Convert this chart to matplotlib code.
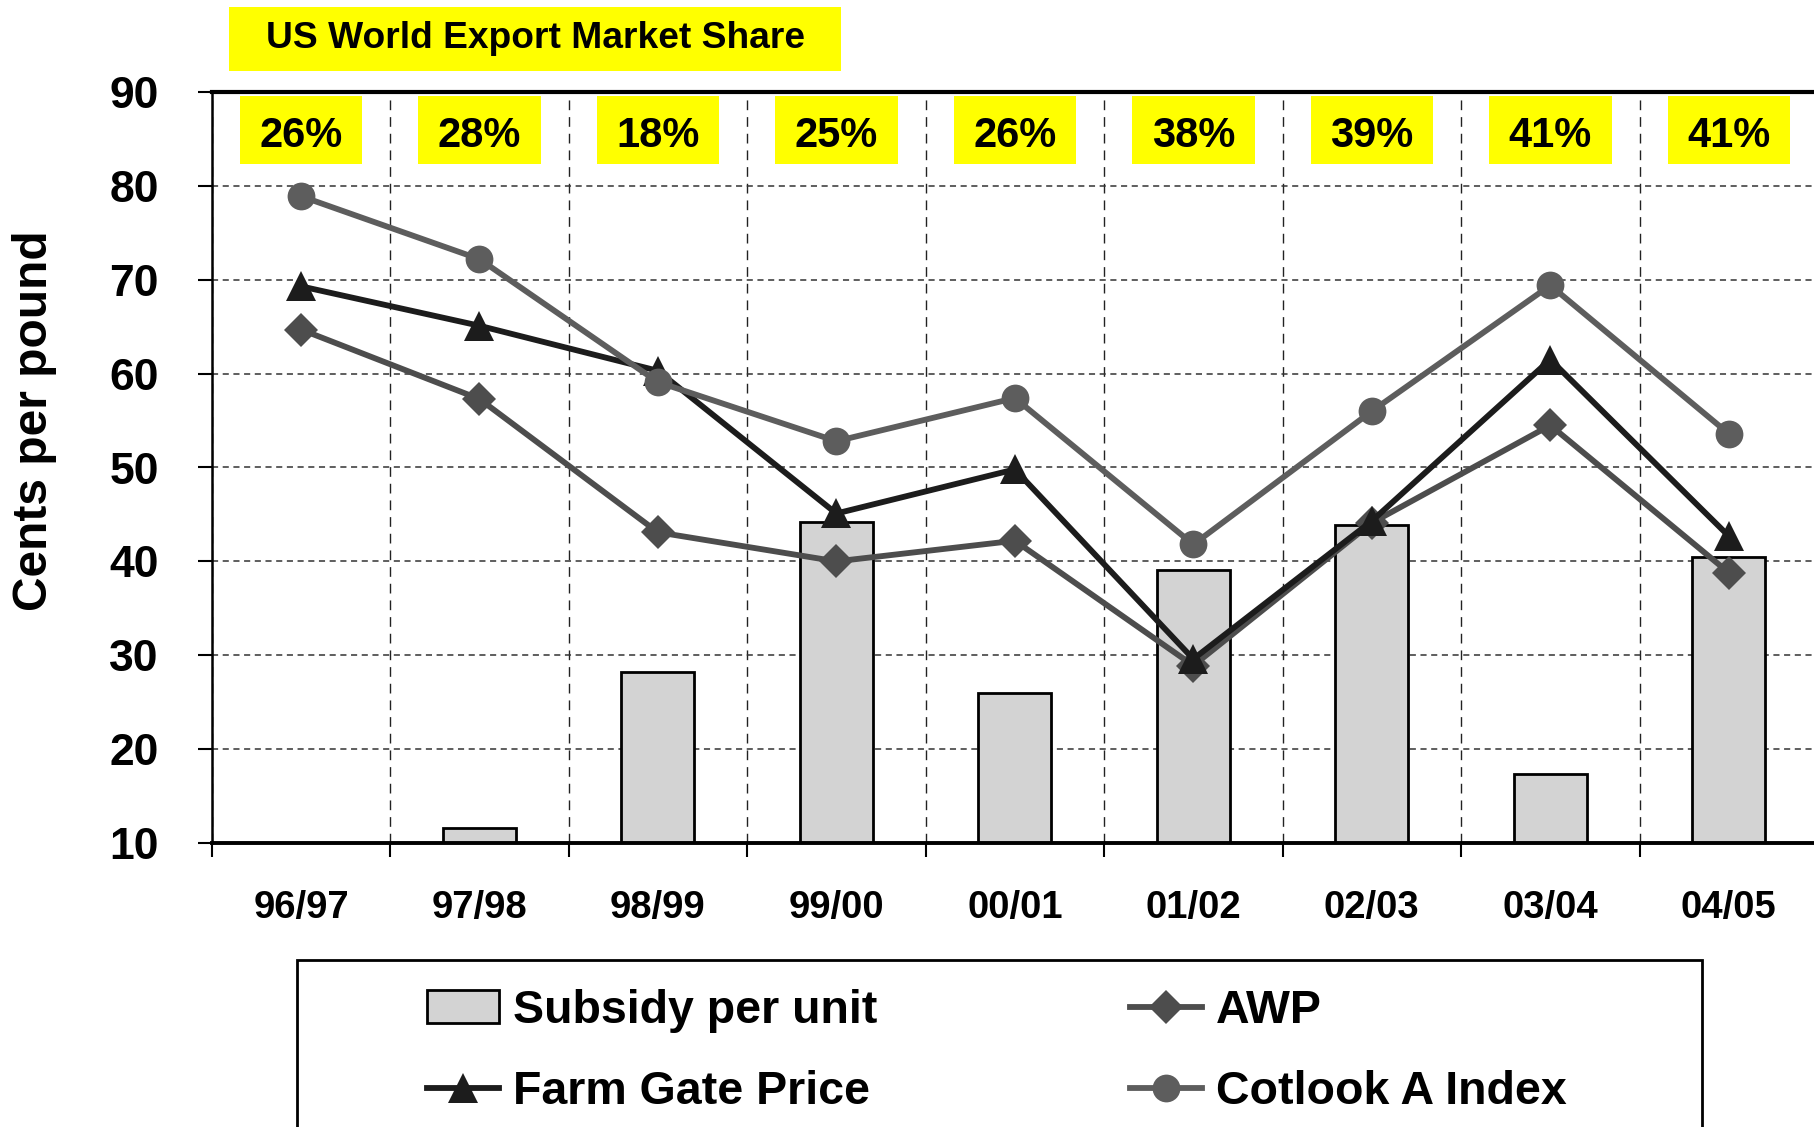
import matplotlib
matplotlib.use("Agg")
import matplotlib.pyplot as plt
from matplotlib.patches import Rectangle
import matplotlib.transforms as mtransforms

plt.rcParams['font.family'] = ['Liberation Sans', 'DejaVu Sans']
plt.rcParams['font.weight'] = 'bold'

seasons = ["96/97", "97/98", "98/99", "99/00", "00/01", "01/02", "02/03", "03/04", "04/05"]
market_share = ["26%", "28%", "18%", "25%", "26%", "38%", "39%", "41%", "41%"]
subsidy = [0, 11.6, 28.2, 44.2, 26.0, 39.1, 43.9, 17.4, 40.5]
awp = [64.7, 57.3, 43.1, 40.0, 42.2, 28.9, 44.1, 54.5, 38.8]
farm_gate = [69.3, 65.1, 60.3, 45.1, 49.8, 29.6, 44.3, 61.5, 42.7]
cotlook = [78.9, 72.2, 59.1, 52.8, 57.4, 41.8, 56.0, 69.4, 53.6]

W, H = 1814, 1127
fig = plt.figure(figsize=(W / 100, H / 100), dpi=100)
ax = fig.add_axes([211.7 / W, 1 - 843 / H, (1818 - 211.7) / W, (843 - 92) / H])

x = list(range(len(seasons)))
h_bar = ax.bar(x, subsidy, width=0.41, color="#d3d3d3", edgecolor="black", linewidth=2, zorder=2,
               label="Subsidy per unit")
h_awp, = ax.plot(x, awp, color="#4d4d4d", lw=4.2, marker="D", ms=17, mew=0, zorder=3, label="AWP")
h_fg, = ax.plot(x, farm_gate, color="#1c1c1c", lw=4.2, marker="^", ms=21, mew=0, zorder=4,
                label="Farm Gate Price")
h_ct, = ax.plot(x, cotlook, color="#5d5d5d", lw=4.2, marker="o", ms=20, mew=0, zorder=5,
                label="Cotlook A Index")

ax.set_xlim(-0.5, len(seasons) - 0.5)
ax.set_ylim(10, 90)
ax.set_yticks(range(10, 91, 10))
ax.set_xticks([i - 0.5 for i in range(len(seasons) + 1)])
ax.set_xticklabels([])
ax.set_xticks(x, minor=True)
ax.set_xticklabels(seasons, minor=True)
ax.tick_params(axis="x", which="major", length=10, width=1.5, direction="out")
ax.tick_params(axis="x", which="minor", length=0, pad=34, labelsize=27.5)
ax.tick_params(axis="y", length=10, width=1.5, direction="out", pad=28, labelsize=32)
for lab in ax.get_xticklabels(minor=True) + ax.get_yticklabels():
    lab.set_fontweight("bold")

ax.grid(axis="y", which="major", linestyle=(0, (4, 3)), color="#333333", lw=1.1, zorder=1)
ax.grid(axis="x", which="major", linestyle=(0, (7, 5)), color="#222222", lw=1.0, zorder=1)
ax.set_axisbelow(True)

ax.spines["top"].set_linewidth(3)
ax.spines["bottom"].set_linewidth(2.8)
ax.spines["left"].set_linewidth(1.8)
ax.spines["right"].set_visible(False)

# y-axis title
fig.text(35 / W, 1 - 421 / H, "Cents per pound", rotation=90, ha="center", va="center",
         fontsize=34.5, fontweight="bold")

# yellow market-share boxes
trans = mtransforms.blended_transform_factory(ax.transData, ax.transAxes)
for i, s in enumerate(market_share):
    ax.add_patch(Rectangle((i - 0.343, 1 - (164 - 92) / (843 - 92)), 0.686, (164 - 96) / (843 - 92),
                           transform=trans, facecolor="#ffff00", edgecolor="none", zorder=6,
                           clip_on=False))
    ax.text(i, 1 - (136 - 92) / (843 - 92), s, transform=trans, ha="center", va="center",
            fontsize=30, fontweight="bold", zorder=7)

# title box
fig.patches.append(Rectangle((229 / W, 1 - 71 / H), (841 - 229) / W, 64 / H,
                             transform=fig.transFigure, facecolor="#ffff00", edgecolor="none"))
fig.text(535 / W, 1 - 39 / H, "US World Export Market Share", ha="center", va="center",
         fontsize=26.7, fontweight="bold")

# legend frame
fig.patches.append(Rectangle((297 / W, -0.05), (1702 - 297) / W, 1 - 960 / H + 0.05,
                             transform=fig.transFigure, facecolor="white", edgecolor="black",
                             linewidth=2))
hs = [h_bar, h_fg, h_awp, h_ct]
ls = [h.get_label() for h in hs]
leg = fig.legend(hs, ls, ncol=2, loc="upper left", bbox_to_anchor=(427 / W, 1 - 989 / H),
                 frameon=False, handlelength=1.55, handletextpad=0.3,
                 columnspacing=5.43, labelspacing=0.8, borderpad=0, borderaxespad=0,
                 numpoints=1, prop={"weight": "bold", "size": 33.5})

fig.savefig("out.png", dpi=100)
